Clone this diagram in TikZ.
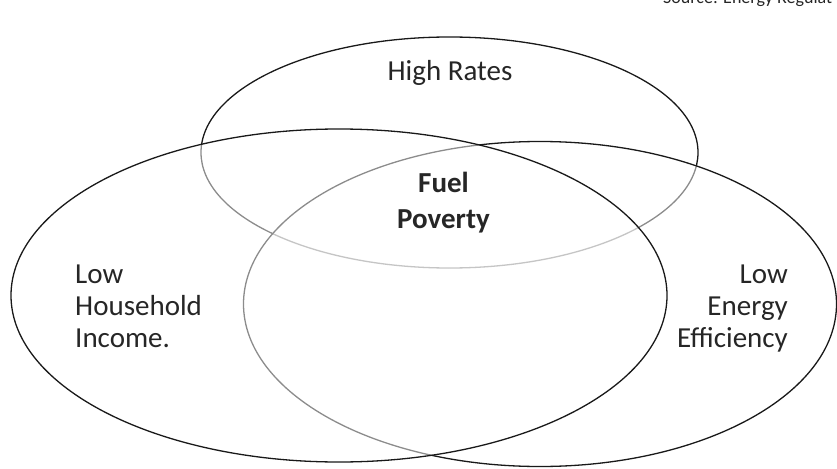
\documentclass[tikz,border=0pt]{standalone}
\usepackage{fontspec}
\setmainfont{Carlito}
\usetikzlibrary{shapes.geometric}
\tikzstyle{vennset} = [draw=black!90, ellipse, line width=1.3pt, fill=white, fill opacity=0.5, inner sep=0]
\tikzstyle{settext} = [text=black!85, inner sep=0, font=\fontsize{29}{32}\selectfont]

\begin{document}
\begin{tikzpicture}[x=1pt, y=-1pt]
      \useasboundingbox (0, 0) rectangle (837, 468);
      \node[vennset, minimum width=497pt, minimum height=231pt] (rates) at (449.5, 152.5) {};
      \node[vennset, minimum width=593pt, minimum height=325pt] (efficiency) at (540, 304) {};
      \node[vennset, minimum width=656pt, minimum height=333pt] (income) at (339, 295.5) {};

      \node[settext, anchor=base] (ratestext) at (450, 81) {High Rates};
      \node[settext, anchor=base west, align=left] (incometext) at (75, 347) {Low\\Household\\Income.};
      \node[settext, anchor=base east, align=right] (efficiencytext) at (788, 347) {Low\\Energy\\Efficiency};
      \node[settext, anchor=base, align=center, font=\fontsize{29}{36}\selectfont\bfseries] (fuel) at (443.5, 228) {Fuel\\Poverty};
      \node[text=black!85, inner sep=0, anchor=base west, font=\fontsize{18}{20}\selectfont] (source) at (663, 4) {Source: Energy Regulat};
    \end{tikzpicture}
\end{document}
